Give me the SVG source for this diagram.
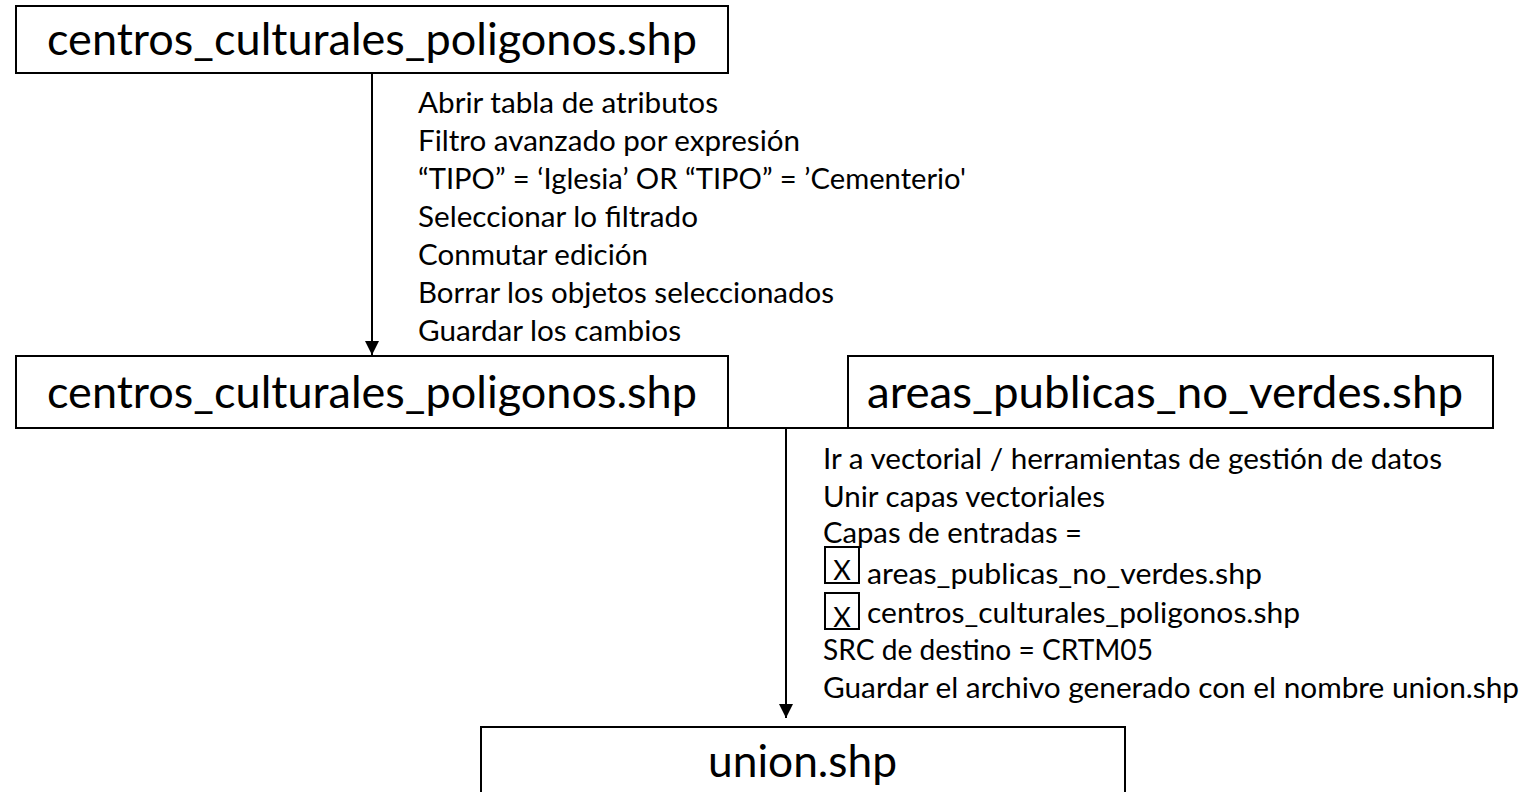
<svg xmlns="http://www.w3.org/2000/svg" width="1531" height="792" viewBox="0 0 1531 792">
<defs>
<style>
.box{fill:#fff;stroke:#000;stroke-width:2}
.lbl{font-family:Lato,"Liberation Sans",sans-serif;font-size:44px;fill:#000}
.t{font-family:Lato,"Liberation Sans",sans-serif;font-size:29.5px;fill:#000}
.x{font-family:Lato,"Liberation Sans",sans-serif;font-size:27px;fill:#000}
.ln{stroke:#000;stroke-width:2;fill:none}
.cb{fill:none;stroke:#000;stroke-width:2}
</style>
<marker id="ah" viewBox="0 0 14 14" refX="14" refY="7" markerWidth="14" markerHeight="14" markerUnits="userSpaceOnUse" orient="auto">
<path d="M0,0 L14,7 L0,14 z" fill="#000"/>
</marker>
</defs>
<rect width="1531" height="792" fill="#fff"/>
<g id="connectors">
<line class="ln" x1="372" y1="73" x2="372" y2="355" marker-end="url(#ah)"/>
<line class="ln" x1="728" y1="428" x2="848" y2="428"/>
<line class="ln" x1="786" y1="428" x2="786" y2="718" marker-end="url(#ah)"/>
</g>
<g id="n1">
<rect class="box" x="16" y="6" width="712" height="67"/>
<text class="lbl" x="47" y="55" textLength="650" lengthAdjust="spacingAndGlyphs">centros_culturales_poligonos.shp</text>
</g>
<g id="steps1">
<text class="t" x="418" y="113" textLength="300" lengthAdjust="spacingAndGlyphs">Abrir tabla de atributos</text>
<text class="t" x="418" y="151" textLength="382" lengthAdjust="spacingAndGlyphs">Filtro avanzado por expresión</text>
<text class="t" x="418" y="189" textLength="548" lengthAdjust="spacingAndGlyphs">“TIPO” = ‘Iglesia’ OR “TIPO” = ’Cementerio'</text>
<text class="t" x="418" y="227" textLength="280" lengthAdjust="spacingAndGlyphs">Seleccionar lo filtrado</text>
<text class="t" x="418" y="265" textLength="230" lengthAdjust="spacingAndGlyphs">Conmutar edición</text>
<text class="t" x="418" y="303" textLength="416" lengthAdjust="spacingAndGlyphs">Borrar los objetos seleccionados</text>
<text class="t" x="418" y="341" textLength="263" lengthAdjust="spacingAndGlyphs">Guardar los cambios</text>
</g>
<g id="n2">
<rect class="box" x="16" y="356" width="712" height="72"/>
<text class="lbl" x="47" y="408" textLength="650" lengthAdjust="spacingAndGlyphs">centros_culturales_poligonos.shp</text>
</g>
<g id="n3">
<rect class="box" x="848" y="356" width="645" height="72"/>
<text class="lbl" x="867" y="408" textLength="596" lengthAdjust="spacingAndGlyphs">areas_publicas_no_verdes.shp</text>
</g>
<g id="steps2">
<text class="t" x="823" y="469" textLength="619" lengthAdjust="spacingAndGlyphs">Ir a vectorial / herramientas de gestión de datos</text>
<text class="t" x="823" y="507" textLength="282" lengthAdjust="spacingAndGlyphs">Unir capas vectoriales</text>
<text class="t" x="823" y="543" textLength="259" lengthAdjust="spacingAndGlyphs">Capas de entradas =</text>
<rect class="cb" x="825" y="547" width="34" height="36"/>
<text class="x" x="842" y="580" text-anchor="middle">X</text>
<text class="t" x="867" y="584" textLength="395" lengthAdjust="spacingAndGlyphs">areas_publicas_no_verdes.shp</text>
<rect class="cb" x="825" y="593" width="34" height="36"/>
<text class="x" x="842" y="627" text-anchor="middle">X</text>
<text class="t" x="867" y="623" textLength="433" lengthAdjust="spacingAndGlyphs">centros_culturales_poligonos.shp</text>
<text class="t" x="823" y="660" textLength="330" lengthAdjust="spacingAndGlyphs">SRC de destino = CRTM05</text>
<text class="t" x="823" y="698" textLength="696" lengthAdjust="spacingAndGlyphs">Guardar el archivo generado con el nombre union.shp</text>
</g>
<g id="n4">
<rect class="box" x="481" y="727" width="644" height="90"/>
<text class="lbl" x="708" y="777" textLength="189" lengthAdjust="spacingAndGlyphs">union.shp</text>
</g>
</svg>
